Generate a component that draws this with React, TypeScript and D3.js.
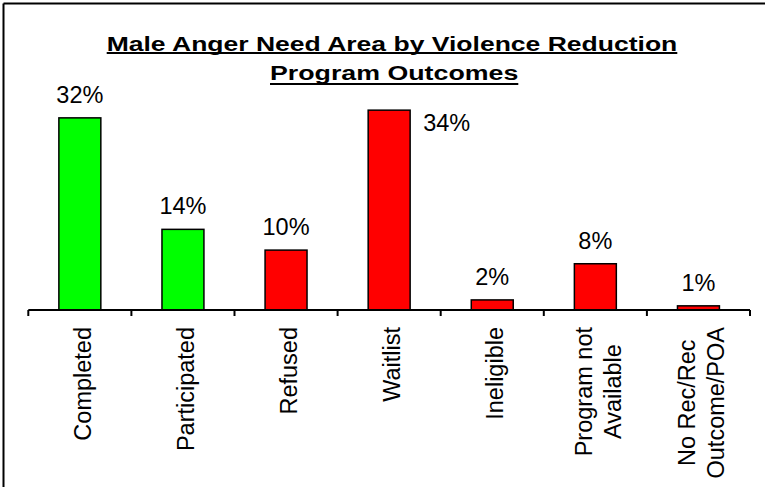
import React from "react";
import * as d3 from "d3";

const W = 765;
const H = 487;

const categories = [
  "Completed",
  "Participated",
  "Refused",
  "Waitlist",
  "Ineligible",
  "Program not\nAvailable",
  "No Rec/Rec\nOutcome/POA",
];
const values = [32.4, 13.6, 10.1, 33.7, 1.7, 7.8, 0.7];
const outcomeGroup = ["took part", "took part", "not", "not", "not", "not", "not"];
const titleLines = ["Male Anger Need Area by Violence Reduction", "Program Outcomes"];

const FONT = "'Liberation Sans', Arial, Helvetica, sans-serif";
const FS = 23.5;

let ctx: CanvasRenderingContext2D | null = null;
function measure(text: string, font: string): number {
  if (!ctx) {
    const c = document.createElement("canvas");
    ctx = c.getContext("2d");
  }
  if (!ctx) return text.length * 12;
  ctx.font = font;
  return ctx.measureText(text).width;
}

export default function App() {
  const x = d3
    .scaleBand<string>()
    .domain(categories)
    .range([28.3, 750])
    .paddingInner(0.593)
    .paddingOuter(0.2965);
  const y = d3.scaleLinear().domain([0, 40]).range([310, 310 - 40 * 5.93]);
  const color = d3
    .scaleOrdinal<string, string>()
    .domain(["took part", "not"])
    .range(["#00FF00", "#FF0000"]);

  const step = x.step();
  const x0 = 28.3;
  const ticks = d3.range(categories.length + 1).map((i) => x0 + i * step);

  // title geometry
  const titleSpecs = [
    { x1: 106.7, x2: 677.3, base: 50.5, ul: 53 },
    { x1: 270, x2: 518.3, base: 80, ul: 84 },
  ];
  const titleBox = { x1: 270, x2: 518.3, y1: 64, y2: 86 };

  const labelFont = `${FS}px ${FONT}`;

  return (
    <svg
      width={W}
      height={H}
      style={{ position: "absolute", left: 0, top: 0, background: "#fff" }}
      fontFamily={FONT}
    >
      <rect x={0} y={0} width={W} height={H} fill="#fff" />
      {/* frame */}
      <line x1={3.5} y1={3.5} x2={W} y2={3.5} stroke="#000" strokeWidth={2} />
      <line x1={3.5} y1={3.5} x2={3.5} y2={H} stroke="#000" strokeWidth={2} />

      {/* title */}
      {titleLines.map((t, i) => {
        const s = titleSpecs[i];
        return (
          <g key={t}>
            <text
              x={s.x1}
              y={s.base}
              fontSize={19.5}
              fontWeight="bold"
              textLength={s.x2 - s.x1}
              lengthAdjust="spacingAndGlyphs"
              fill="#000"
            >
              {t}
            </text>
            <line x1={s.x1} x2={s.x2} y1={s.ul} y2={s.ul} stroke="#000" strokeWidth={2} />
          </g>
        );
      })}

      {/* bars */}
      {categories.map((c, i) => {
        const bx = x(c)!;
        const top = y(values[i]);
        return (
          <rect
            key={c}
            x={bx}
            y={top}
            width={x.bandwidth()}
            height={y(0) - top}
            fill={color(outcomeGroup[i])}
            stroke="#000"
            strokeWidth={1.5}
          />
        );
      })}

      {/* axis */}
      <line x1={x0} x2={750} y1={310} y2={310} stroke="#000" strokeWidth={2} />
      {ticks.map((t, i) => (
        <line key={i} x1={t} x2={t} y1={310} y2={316} stroke="#000" strokeWidth={2} />
      ))}

      {/* data labels */}
      {categories.map((c, i) => {
        const label = `${Math.round(values[i])}%`;
        const cx = x(c)! + x.bandwidth() / 2;
        const top = y(values[i]);
        const w = measure(label, labelFont);
        const base = top - 15;
        const box = { x1: cx - w / 2, x2: cx + w / 2, y1: base - FS * 0.72, y2: base };
        const overlaps =
          box.x1 < titleBox.x2 && box.x2 > titleBox.x1 && box.y1 < titleBox.y2 && box.y2 > titleBox.y1;
        if (overlaps) {
          return (
            <text key={c} x={x(c)! + x.bandwidth() + 13} y={top + 21} fontSize={FS} fill="#000">
              {label}
            </text>
          );
        }
        return (
          <text key={c} x={cx} y={base} fontSize={FS} textAnchor="middle" fill="#000">
            {label}
          </text>
        );
      })}

      {/* category labels */}
      {categories.map((c) => {
        const lines = c.split("\n");
        const cx = x(c)! + x.bandwidth() / 2;
        const maxLen = d3.max(lines, (l) => measure(l, labelFont)) || 0;
        const lineGap = 28.5;
        const midY = 327 + maxLen / 2;
        return (
          <g key={c} transform={`translate(${cx},${midY}) rotate(-90)`}>
            {lines.map((l, j) => (
              <text
                key={l}
                x={0}
                y={11 + (j - (lines.length - 1) / 2) * lineGap}
                fontSize={FS}
                textAnchor="middle"
                fill="#000"
              >
                {l}
              </text>
            ))}
          </g>
        );
      })}
    </svg>
  );
}
